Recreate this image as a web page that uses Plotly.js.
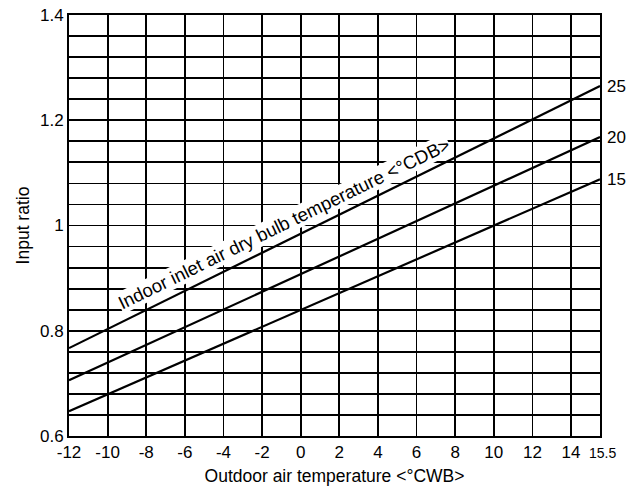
<!DOCTYPE html>
<html><head><meta charset="utf-8">
<script src="https://cdn.plot.ly/plotly-3.0.1.min.js"></script>
<style>html,body{margin:0;padding:0;background:#fff}#c{width:630px;height:494px}</style>
</head><body><div id="c"></div>
<script>
var xEnds = [-12, 15.5];
var series = ["25", "20", "15"];
var y25 = [0.767, 1.265];
var y20 = [0.706, 1.168];
var y15 = [0.647, 1.088];
var xTickVals = [-12,-10,-8,-6,-4,-2,0,2,4,6,8,10,12,14,15.5];
var xTickText = ["-12","-10","-8","-6","-4","-2","0","2","4","6","8","10","12","14","15.5"];
var yTickVals = [0.6,0.64,0.68,0.72,0.76,0.8,0.84,0.88,0.92,0.96,1.0,1.04,1.08,1.12,1.16,1.2,1.24,1.28,1.32,1.36,1.4];
var yTickText = ["0.6","","","","","0.8","","","","","1","","","","","1.2","","","","","1.4"];
var curveLabel = "Indoor inlet air dry bulb temperature <°CDB>";

var ys = [y25, y20, y15];
var traces = ys.map(function(y, i){
  return {x: xEnds, y: y, mode: "lines", name: series[i], line: {color: "#000", width: 2.2}, hoverinfo: "skip"};
});
var ann = [];
ann.push({x: -0.85, y: 1.003, xref: "x", yref: "y", text: curveLabel, showarrow: false,
  textangle: -26, bgcolor: "#fff", borderpad: 0, font: {size: 18.5, color: "#000"}});
ys.forEach(function(y, i){
  ann.push({x: xEnds[1], y: y[1], xref: "x", yref: "y", text: series[i], showarrow: false,
          xanchor: "left", xshift: 5, font: {size: 17, color: "#000"}});
});
// last x tick label drawn smaller, as in the original
var lastIdx = xTickVals.length - 1;
ann.push({x: xTickVals[lastIdx], y: 0, xref: "x", yref: "paper", text: xTickText[lastIdx],
  showarrow: false, yanchor: "top", yshift: -7, xshift: 2, font: {size: 14, color: "#000"}});
var shownTickText = xTickText.map(function(t, i){ return i === lastIdx ? "" : t; });

var layout = {
  width: 630, height: 494,
  margin: {l: 69, r: 30, t: 15, b: 58},
  paper_bgcolor: "#fff", plot_bgcolor: "#fff",
  font: {family: "Liberation Sans, Arial, sans-serif", color: "#000", size: 17},
  showlegend: false,
  xaxis: {range: [-12, 15.5], tickmode: "array", tickvals: xTickVals, ticktext: shownTickText,
    showgrid: true, gridcolor: "#000", gridwidth: 1.8, zeroline: false,
    showline: true, linecolor: "#000", linewidth: 2, mirror: true, ticks: "",
    tickfont: {size: 17},
    title: {text: "Outdoor air temperature <°CWB>", font: {size: 17.5}, standoff: 8}},
  yaxis: {range: [0.6, 1.4], tickmode: "array", tickvals: yTickVals, ticktext: yTickText,
    showgrid: true, gridcolor: "#000", gridwidth: 1.8, zeroline: false,
    showline: true, linecolor: "#000", linewidth: 2, mirror: true, ticks: "",
    tickfont: {size: 17},
    title: {text: "Input ratio", font: {size: 17.5}, standoff: 6}},
  annotations: ann
};
Plotly.newPlot("c", traces, layout, {displayModeBar: false, staticPlot: true});
</script></body></html>
